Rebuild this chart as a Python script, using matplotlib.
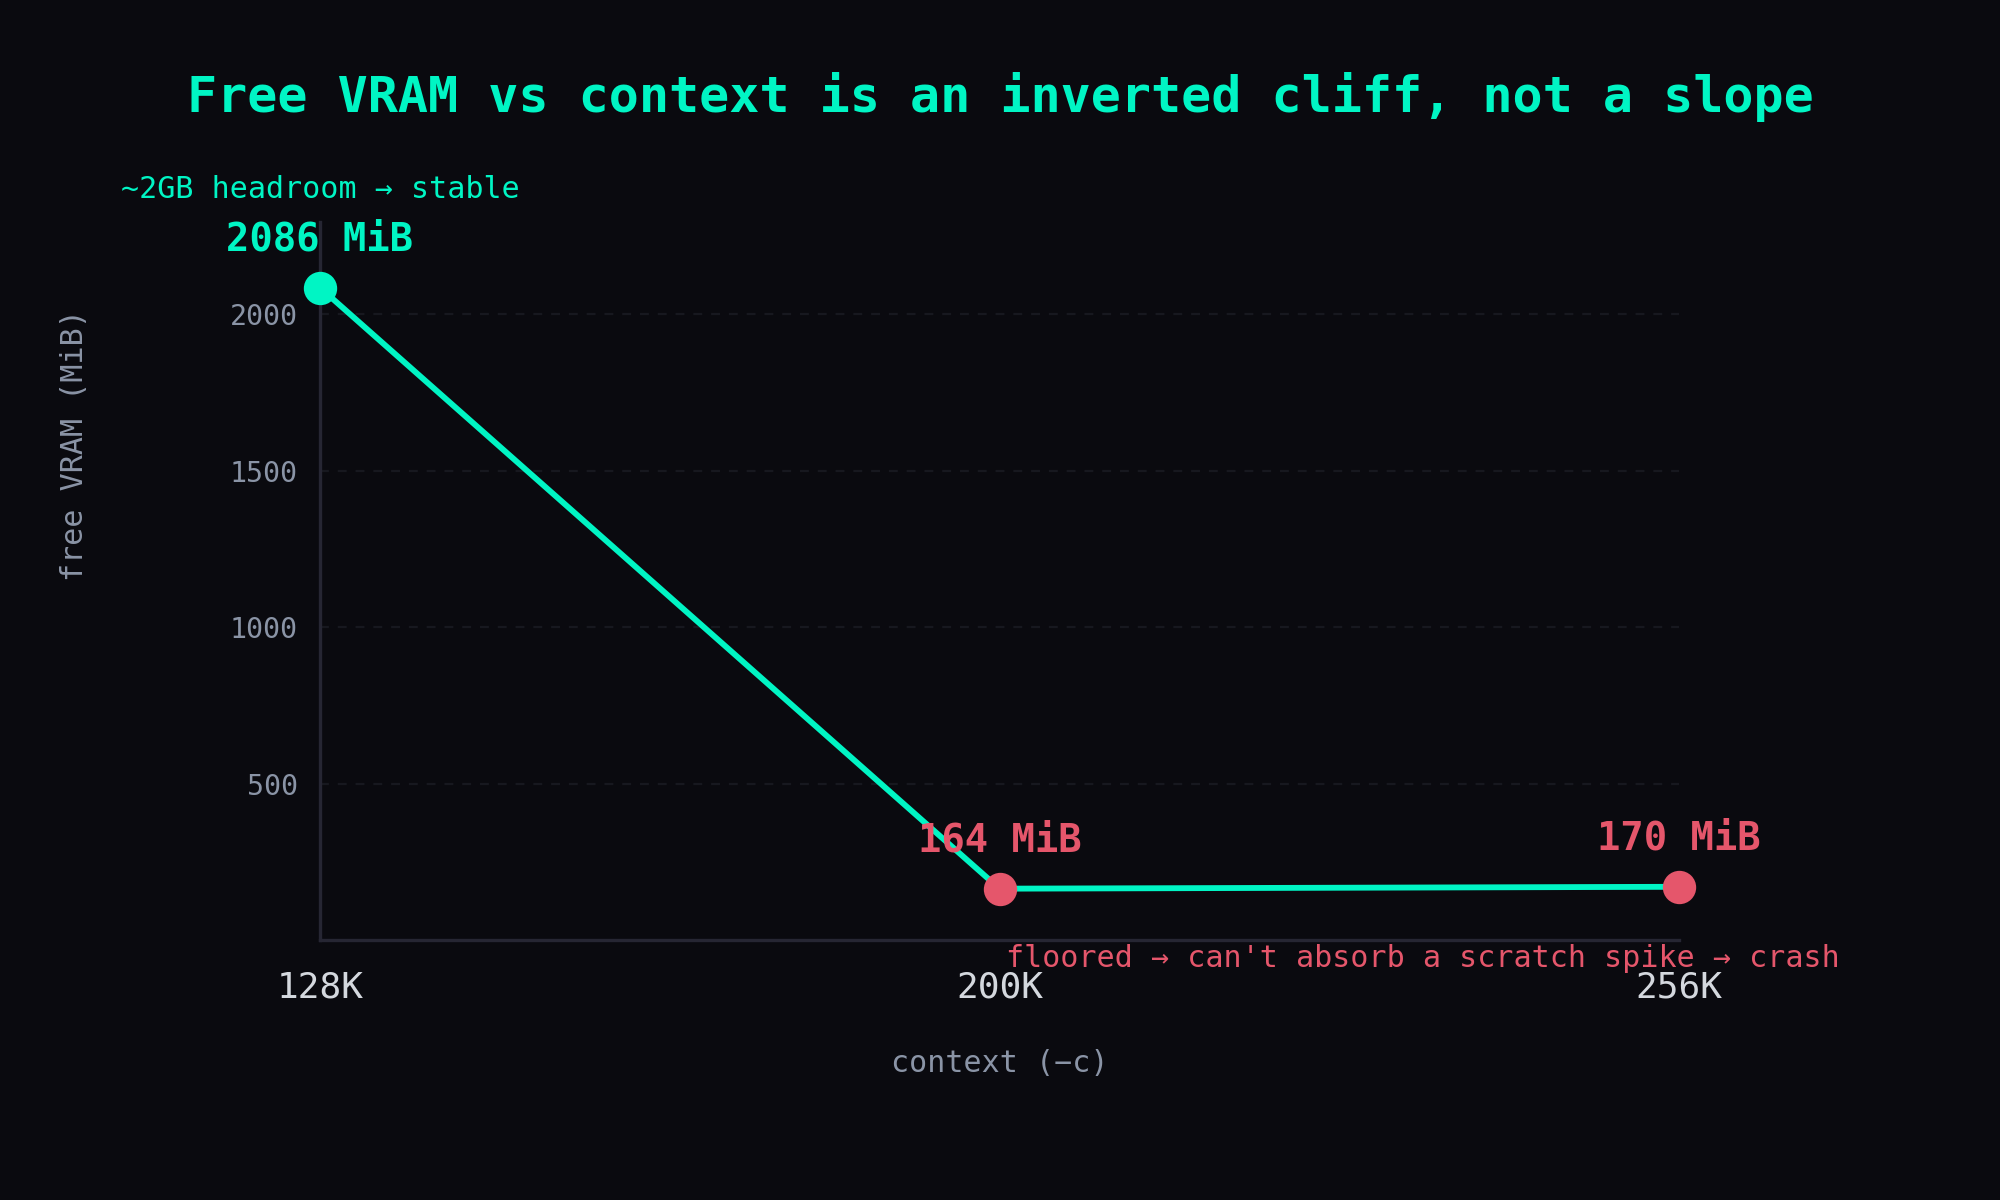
"""Free VRAM vs context length chart"""

import matplotlib
matplotlib.use("Agg")
from matplotlib import pyplot as plt

# Data
contexts = ["128K", "200K", "256K"]
free_vram = [2086, 164, 170]
point_labels = ["2086 MiB", "164 MiB", "170 MiB"]
y_ticks = [500, 1000, 1500, 2000]

# Colours
bg = "#0a0a0f"
aqua = "#00f5c4"
red = "#e5566b"
grey = "#8a94a6"
light = "#d4d8de"
spine = "#262633"
grid = "#17181f"

plt.rcParams["font.family"] = ["DejaVu Sans Mono", "DejaVu Sans"]

fig = plt.figure(figsize=(10, 6), dpi=200, facecolor=bg)
ax = fig.add_axes([0.16, 0.2167, 0.6795, 0.598])
ax.set_facecolor(bg)

x = list(range(len(contexts)))
ax.plot(x, free_vram, color=aqua, linewidth=2.1, zorder=3)

# first point is fine, the rest are floored
colours = [aqua] + [red] * (len(x) - 1)
for xi, yi, c, lab in zip(x, free_vram, colours, point_labels):
    ax.plot(xi, yi, "o", color=c, markersize=11, zorder=4, clip_on=False)
    ax.annotate(lab, (xi, yi), xytext=(0, 10.5), textcoords="offset points",
                ha="center", va="bottom", color=c, fontsize=14,
                fontweight="bold", zorder=5, annotation_clip=False)

ax.text(0, 2400, "~2GB headroom \u2192 stable", color=aqua, fontsize=10.8,
        ha="center", va="center", clip_on=False)
ax.text(1.01, -60, "floored \u2192 can't absorb a scratch spike \u2192 crash",
        color=red, fontsize=10.8, ha="left", va="center", clip_on=False)

ax.set_xlim(0, len(x) - 1)
ax.set_ylim(0, max(free_vram) * 1.1)
ax.set_xticks(x)
ax.set_xticklabels(contexts)
ax.set_yticks(y_ticks)
ax.tick_params(axis="x", length=0, pad=11, labelsize=13, labelcolor=light)
ax.tick_params(axis="y", length=0, pad=8, labelsize=10.2, labelcolor=grey)

ax.yaxis.grid(True, color=grid, linestyle=(0, (4, 4)), linewidth=0.8)
ax.set_axisbelow(True)

for s in ["top", "right"]:
    ax.spines[s].set_visible(False)
for s in ["left", "bottom"]:
    ax.spines[s].set_color(spine)
    ax.spines[s].set_linewidth(1.2)

ax.set_xlabel("context (\u2212c)", color=grey, fontsize=10.8, labelpad=16)
ax.set_ylabel("free VRAM (MiB)", color=grey, fontsize=10.8)
ax.yaxis.set_label_coords(-0.170, 0.69)

fig.suptitle("Free VRAM vs context is an inverted cliff, not a slope",
             color=aqua, fontsize=18, fontweight="bold", x=0.5, y=0.94)

fig.savefig("out.png", dpi=200, facecolor=bg)
